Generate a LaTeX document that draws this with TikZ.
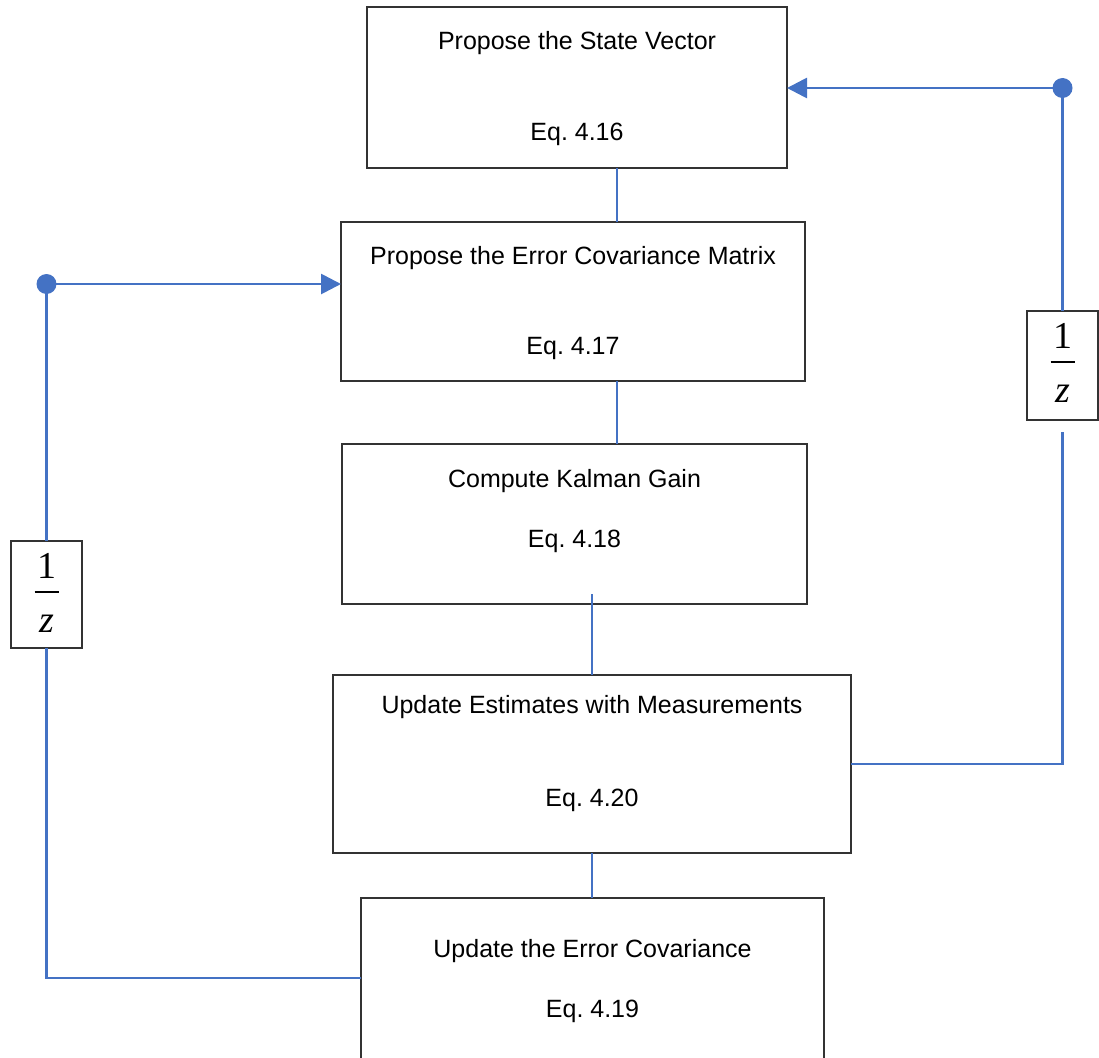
\documentclass[tikz,border=0pt]{standalone}
\usepackage{fontspec}
\setmainfont{Liberation Sans}
\newfontfamily\serifz{Liberation Serif}
\usetikzlibrary{arrows.meta,calc}
\definecolor{linkblue}{HTML}{4472C4}
\definecolor{boxgray}{HTML}{333333}
\frenchspacing
\begin{document}
\begin{tikzpicture}[x=1pt,y=-1pt,
  blk/.style={draw=boxgray,line width=1.3pt,rectangle,inner sep=0pt,outer sep=0pt},
  lbl/.style={anchor=base,inner sep=0pt,font=\fontsize{25}{30}\selectfont},
  link/.style={draw=linkblue,line width=2.3pt},
  feed/.style={draw=linkblue,line width=2.75pt},
  tip/.style={-{Triangle[length=20pt,width=20pt]}},
  dot/.style={circle,fill=linkblue,inner sep=0pt,minimum size=20pt},
  zbox/.style={blk,minimum width=71pt,minimum height=108pt},
  znum/.style={anchor=base,inner sep=0pt,font=\serifz\fontsize{38}{40}\selectfont},
  zbar/.style={draw=black,line width=1.5pt}]
\clip (0,0) rectangle (1099,1057);

% process blocks
\node[blk,minimum width=420pt,minimum height=161pt] (b1) at (577,87.5) {};
\node[blk,minimum width=464pt,minimum height=159pt] (b2) at (573,301.5) {};
\node[blk,minimum width=465pt,minimum height=160pt] (b3) at (574.5,524) {};
\node[blk,minimum width=518pt,minimum height=178pt] (b4) at (592,764) {};
\node[blk,minimum width=463pt,minimum height=182pt] (b5) at (592.5,989) {};

% block captions
\node[lbl] (t1a) at ($(b1.north)+(0,43)$) {Propose the State Vector};
\node[lbl] (t1b) at ($(b1.north)+(0,133)$) {Eq. 4.16};
\node[lbl] (t2a) at ($(b2.north)+(0,42)$) {Propose the Error Covariance Matrix};
\node[lbl] (t2b) at ($(b2.north)+(0,132)$) {Eq. 4.17};
\node[lbl] (t3a) at ($(b3.north)+(0,43)$) {Compute Kalman Gain};
\node[lbl] (t3b) at ($(b3.north)+(0,103)$) {Eq. 4.18};
\node[lbl] (t4a) at ($(b4.north)+(0,38)$) {Update Estimates with Measurements};
\node[lbl] (t4b) at ($(b4.north)+(0,131)$) {Eq. 4.20};
\node[lbl] (t5a) at ($(b5.north)+(0,59)$) {Update the Error Covariance};
\node[lbl] (t5b) at ($(b5.north)+(0,119)$) {Eq. 4.19};

% straight chain
\coordinate (xA) at (617,0);
\draw[link] (b1.south -| xA) -- (b2.north -| xA);
\draw[link] (b2.south -| xA) -- (b3.north -| xA);
\draw[link] ($(b4.north)+(0,-81)$) -- (b4.north);
\draw[link] (b4.south) -- (b4.south |- b5.north);

% unit delay blocks
\node[zbox,minimum height=109pt] (zR) at (1062.5,365.5) {};
\node[znum] (zR1) at ($(zR.north)+(0,37)$) {1};
\draw[zbar] ($(zR.north)+(-12,51)$) -- ++(24,0);
\node[znum] (zR2) at ($(zR.north)+(0,91)$) {\itshape z};

\node[zbox,minimum height=107pt] (zL) at (46.5,594.5) {};
\node[znum] (zL1) at ($(zL.north)+(0,37)$) {1};
\draw[zbar] ($(zL.north)+(-12,51)$) -- ++(24,0);
\node[znum] (zL2) at ($(zL.north)+(0,91)$) {\itshape z};

% state feedback loop
\coordinate (cR) at (1062.5,764);
\draw[feed] (b4.east) -- (cR) -- ($(zR.south)+(0,12)$);
\draw[feed,tip] (zR.north) -- (1062.5,88) -- (b1.east |- 0,88);
\node[dot] (dR) at (1062.5,88) {};

% covariance feedback loop
\coordinate (cL) at (46.5,978);
\draw[feed] (b5.west |- cL) -- (cL) -- (zL.south);
\draw[feed,tip] (zL.north) -- (46.5,284) -- (b2.west |- 0,284);
\node[dot] (dL) at (46.5,284) {};
\end{tikzpicture}
\end{document}
